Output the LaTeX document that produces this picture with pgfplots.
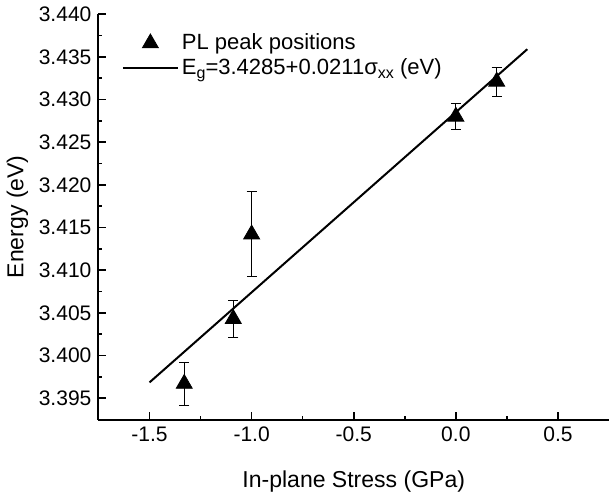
\documentclass[border=0pt]{standalone}
\usepackage{fontspec}
\setmainfont{Liberation Sans}
\usepackage{pgfplots}
\pgfplotsset{compat=1.18}

\begin{document}
\begin{tikzpicture}
\begin{axis}[
    scale only axis, width=255pt, height=202.5pt,
    xmin=-1.75, xmax=0.75, ymin=3.3925, ymax=3.440,
    axis x line*=bottom, axis y line*=left,
    axis line style={line width=1pt},
    tick align=inside, major tick length=4pt, minor tick length=2pt,
    tick style={line width=0.8pt, black},
    xtick={-1.5,-1.0,-0.5,0.0,0.5},
    ytick={3.395,3.400,3.405,3.410,3.415,3.420,3.425,3.430,3.435,3.440},
    minor x tick num=1, minor y tick num=1,
    /pgf/number format/assume math mode=true,
    xticklabel style={font=\fontsize{10.5}{12}\selectfont, /pgf/number format/.cd, fixed, fixed zerofill, precision=1},
    yticklabel style={font=\fontsize{10.5}{12}\selectfont, /pgf/number format/.cd, fixed, fixed zerofill, precision=3},
    scaled y ticks=false,
    xlabel={In-plane Stress (GPa)},
    ylabel={Energy (eV)},
    label style={font=\fontsize{11.5}{13}\selectfont},
    ylabel style={at={([xshift=-40.5pt]axis description cs:0,0.5)}, anchor=center},
    xlabel style={at={([yshift=-31pt]axis description cs:0.5,0)}, anchor=center},
    legend image code/.code={\draw[mark repeat=2, mark phase=2, #1]
        plot coordinates {(0pt,0pt) (13.75pt,0pt) (27.5pt,0pt)};},
    legend style={draw=none, fill=none, at={(axis description cs:0.045,0.96)}, anchor=north west,
        font=\fontsize{11}{13}\selectfont, row sep=0pt, inner sep=0pt,
        nodes={inner sep=1.5pt}},
    legend cell align=left,
]
\addplot[only marks, mark=triangle*, mark size=4.6pt, black,
    error bars/.cd, y dir=both, y explicit,
    error bar style={line width=0.5pt, black},
    error mark options={rotate=90, mark size=2.5pt, line width=0.5pt}]
    table[x=x, y=y, y error=e] {
    x      y       e
    -1.33  3.3967  0.0025
    -1.09  3.4043  0.0022
    -1.00  3.4142  0.0050
     0.00  3.4280  0.0015
     0.20  3.4321  0.0017
};
\addlegendentry{PL peak positions}
\addplot[black, line width=1pt, mark=none] coordinates {(-1.5,3.39685) (0.35,3.43589)};
\addlegendentry{E\raisebox{-0.35ex}{\fontsize{8}{9}\selectfont g}=3.4285+0.0211σ\raisebox{-0.35ex}{\fontsize{8}{9}\selectfont xx} (eV)}
\end{axis}
\end{tikzpicture}
\end{document}
